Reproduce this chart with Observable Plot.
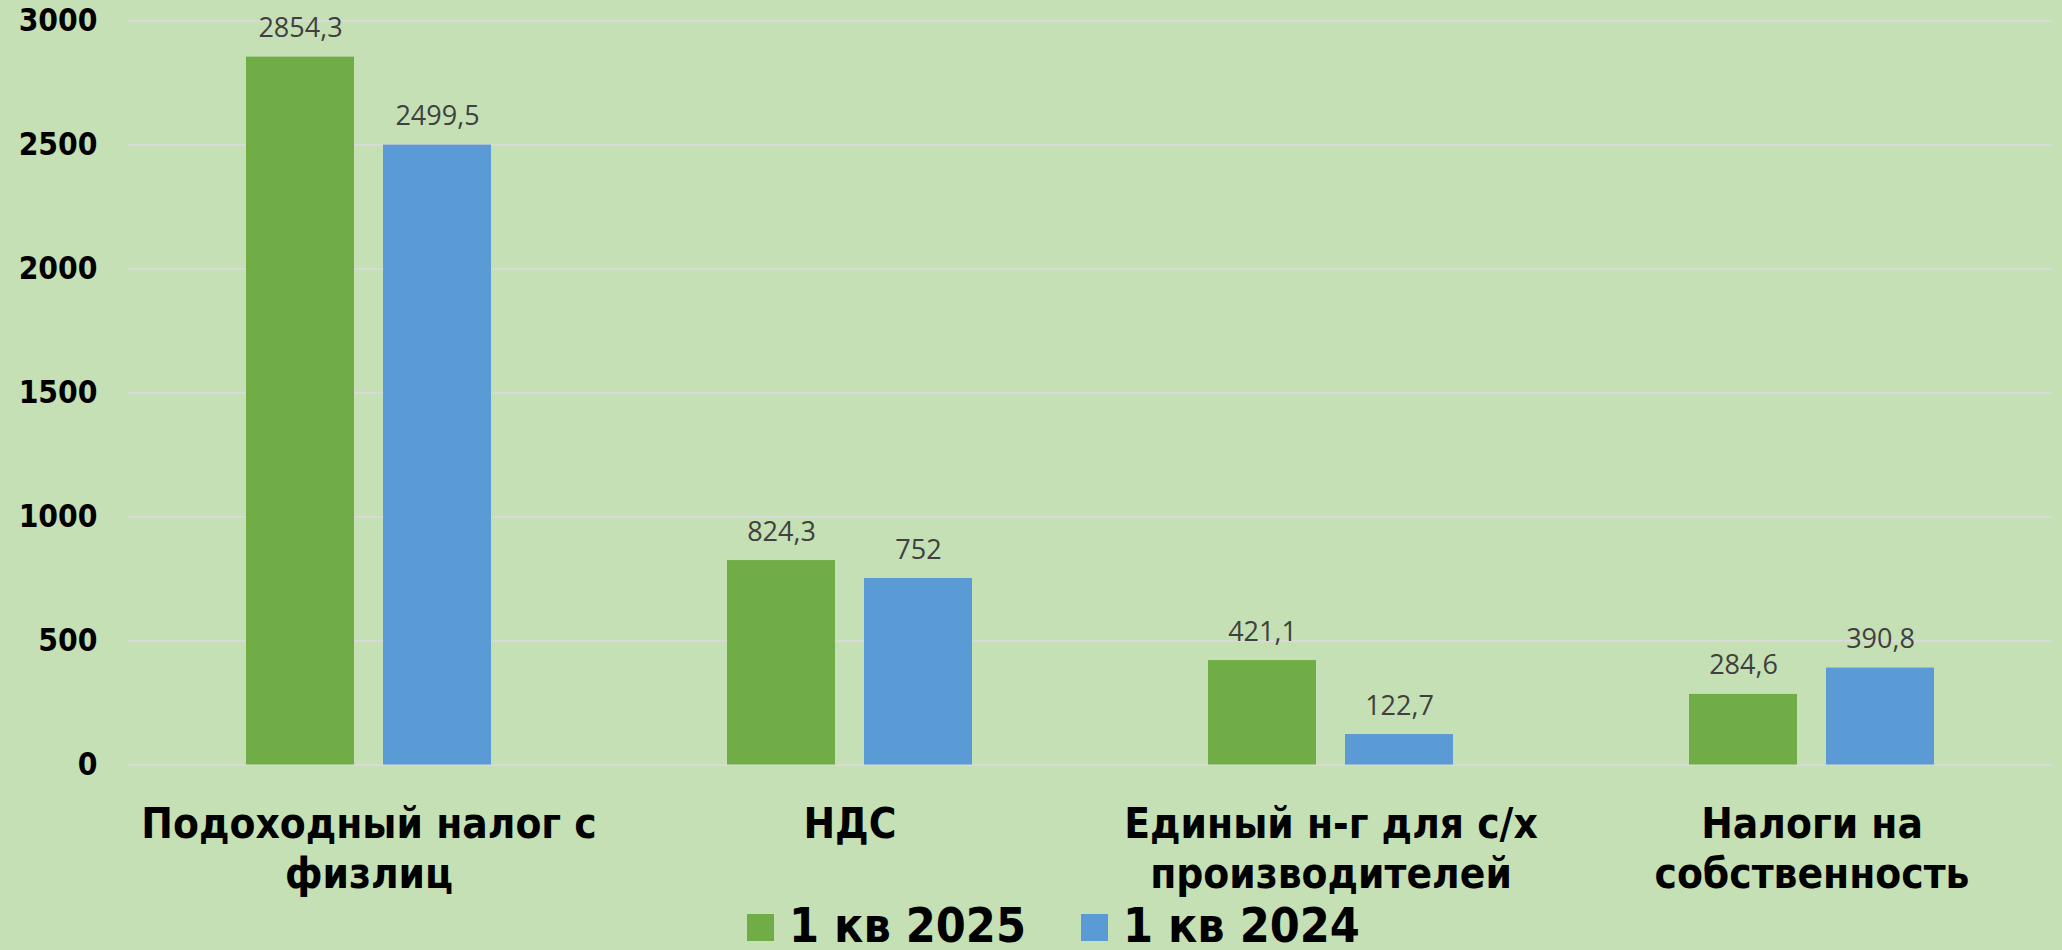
<!DOCTYPE html>
<html>
<head>
<meta charset="utf-8">
<script src="https://cdn.jsdelivr.net/npm/d3@7"></script>
<script src="https://cdn.jsdelivr.net/npm/@observablehq/plot@0.6"></script>
<style>
  html, body { margin: 0; padding: 0; background: #C5E0B4; }
  #chart { width: 2062px; }
  #chart [font-family*="DejaVu"] { font-stretch: condensed; }
  .legend {
    display: flex; align-items: center; height: 50px; width: 2062px;
    padding-left: 747px; box-sizing: border-box;
    font-family: 'DejaVu Sans Condensed', 'DejaVu Sans', sans-serif;
    font-stretch: condensed; font-weight: bold; font-size: 48px; line-height: 50px; color: #000;
  }
  .legend .item { display: flex; align-items: center; margin-right: 55px; }
  .legend .sw { width: 27px; height: 27px; margin-right: 15px; position: relative; top: 2px; }
</style>
</head>
<body>
<div id="chart"></div>
<div class="legend" id="legend"></div>
<script>
const categories = ["Подоходный налог с физлиц", "НДС", "Единый н-г для с/х производителей", "Налоги на собственность"];
const categoryLabels = ["Подоходный налог с\nфизлиц", "НДС", "Единый н-г для с/х\nпроизводителей", "Налоги на\nсобственность"];
const seriesNames = ["1 кв 2025", "1 кв 2024"];
const values2025 = [2854.3, 824.3, 421.1, 284.6];
const values2024 = [2499.5, 752, 122.7, 390.8];
const seriesColors = ["#70AD47", "#5B9BD5"];
const yTicks = [0, 500, 1000, 1500, 2000, 2500, 3000];

const boldFont = "'DejaVu Sans Condensed', 'DejaVu Sans', sans-serif";
const rows = categories.flatMap((c, i) => [
  {cat: c, series: seriesNames[0], value: values2025[i]},
  {cat: c, series: seriesNames[1], value: values2024[i]}
]);
const fmt = v => String(v).replace(".", ",");

const chart = Plot.plot({
  width: 2062,
  height: 900,
  marginLeft: 128,
  marginRight: 10,
  marginTop: 20.5,
  marginBottom: 135.5,
  style: {background: "#C5E0B4", overflow: "visible"},
  fx: {domain: categories, padding: 0, label: null},
  x: {domain: seriesNames, paddingInner: 0.2117, paddingOuter: 0.861, axis: null},
  y: {domain: [0, 3000], axis: null},
  color: {domain: seriesNames, range: seriesColors},
  marks: [
    Plot.gridY(yTicks, {stroke: "#D9D9D9", strokeOpacity: 1, strokeWidth: 2}),
    Plot.barY(rows, {fx: "cat", x: "series", y: "value", fill: "series"}),
    Plot.text(rows, {
      fx: "cat", x: "series", y: "value", text: d => fmt(d.value),
      lineAnchor: "bottom", dy: -20, fontSize: 27, fontFamily: "'Open Sans', sans-serif", fill: "#404040"
    }),
    Plot.axisY(yTicks, {
      tickSize: 0, tickPadding: 31, fontSize: 31.5, fontWeight: "bold",
      fontFamily: boldFont, color: "#000", label: null, tickFormat: d => String(d)
    }),
    Plot.axisFx({
      anchor: "bottom", tickSize: 0, tickPadding: 36.5, fontSize: 42, fontWeight: "bold",
      lineHeight: 1.21, fontFamily: boldFont, color: "#000", label: null,
      tickFormat: d => categoryLabels[categories.indexOf(d)]
    })
  ]
});
document.getElementById("chart").appendChild(chart);

const legend = document.getElementById("legend");
seriesNames.forEach((name, i) => {
  const item = document.createElement("div");
  item.className = "item";
  const sw = document.createElement("span");
  sw.className = "sw";
  sw.style.background = seriesColors[i];
  const lt = document.createElement("span");
  lt.textContent = name;
  item.appendChild(sw);
  item.appendChild(lt);
  legend.appendChild(item);
});
</script>
</body>
</html>
